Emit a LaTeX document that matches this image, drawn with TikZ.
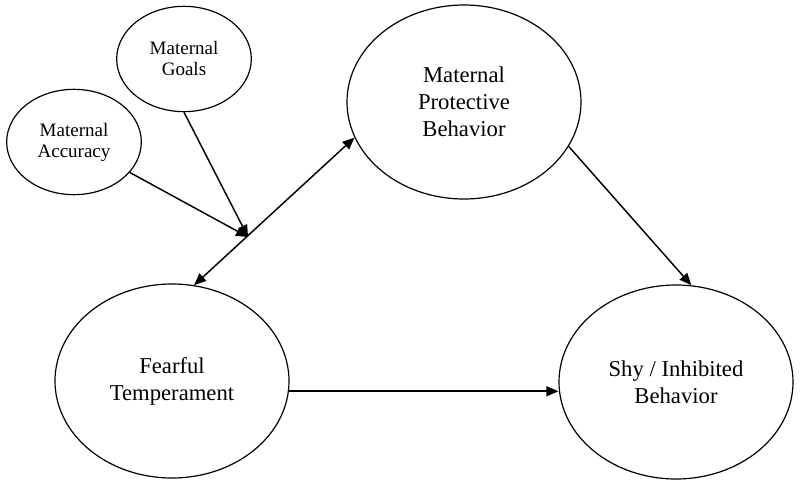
\documentclass[tikz,border=0pt]{standalone}
\usepackage{fontspec}
\setmainfont{Liberation Serif}
\usetikzlibrary{positioning,
                arrows.meta,                % arrow tips
                shapes.geometric}           % ellipse nodes

\begin{document}
\begin{tikzpicture}[x=0.75pt, y=-0.75pt,
    >={Triangle[length=9pt,width=7.5pt]},
    bigvar/.style={draw, ellipse, line width=0.9pt, inner sep=0pt, align=center,
                   minimum width=175.5pt, minimum height=145.5pt,
                   font=\fontsize{17}{20.25}\selectfont},
    smallvar/.style={draw, ellipse, line width=0.9pt, inner sep=0pt, align=center,
                     minimum width=101pt, minimum height=79pt,
                     font=\fontsize{14.25}{15.75}\selectfont},
    link/.style={line width=1.1pt}]
    \useasboundingbox (0,0) rectangle (800,485);

    % moderators
    \node[smallvar] (goals) at (184,59)  {Maternal\\Goals};
    \node[smallvar] (accur) at (74,142)  {Maternal\\Accuracy};

    % main constructs
    \node[bigvar] (prot) at (464,102) {Maternal\\Protective\\Behavior};
    \node[bigvar] (fear) at (172,381) {Fearful\\Temperament};
    \node[bigvar] (shy)  at (676,382) {Shy / Inhibited\\Behavior};

    \coordinate (mod) at (248,237);

    \draw[link, <->] (fear.77) -- (prot.198);
    \draw[link, ->] (goals.south) -- (mod);
    \draw[link, ->] (accur) -- (mod);
    \draw[link, ->] (prot.-23) -- (shy.81);
    \draw[link, ->] (fear.-5) -- (fear.-5 -| shy.west);

\end{tikzpicture}
\end{document}
